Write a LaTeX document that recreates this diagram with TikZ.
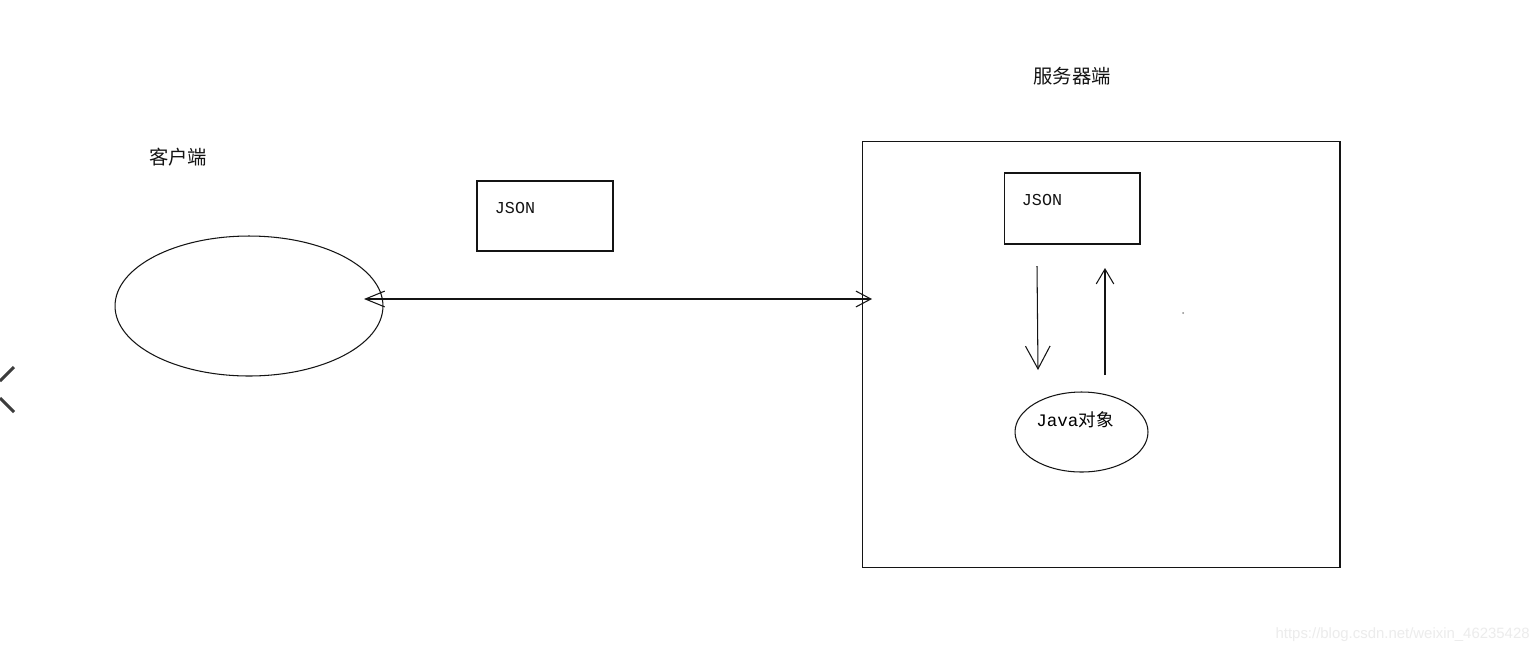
\documentclass[tikz,border=0pt]{standalone}
\usepackage{fontspec}
\setmonofont{Liberation Mono}
\newfontfamily\cjk{Noto Sans CJK SC}
\newfontfamily\wmfont{Liberation Sans}
\usepackage{tikz}
\usetikzlibrary{shapes.geometric, arrows.meta, positioning, calc}
\definecolor{mydark}{RGB}{20,20,20}
\definecolor{mygrey}{RGB}{60,60,60}
\definecolor{mymark}{RGB}{236,236,236}
\tikzset{
  box/.style={rectangle, draw=mydark, line width=0.6pt, inner sep=0pt},
  blob/.style={ellipse, draw=mydark, line width=0.6pt, inner sep=0pt},
  lbl/.style={font=\cjk\fontsize{11}{13}\selectfont, color=mydark, inner sep=0pt},
  jtxt/.style={font=\ttfamily\fontsize{9.5}{11}\selectfont, color=mydark, inner sep=0pt},
  link/.style={line width=0.6pt, color=mydark}
}
\begin{document}
\begin{tikzpicture}[x=0.02cm, y=-0.02cm]
  \useasboundingbox[fill=white] (0,0) rectangle (1537,653);

  % client side
  \node[lbl] (clientlbl) at (178,157) {客户端};
  \node[blob, minimum width=5.36cm, minimum height=2.8cm] (client) at (249,306) {};
  \node[box, minimum width=2.72cm, minimum height=1.4cm] (jsonA) at (545,216) {};
  \node[jtxt] (jsonAtxt) at (515,208) {JSON};

  % server side
  \node[lbl] (serverlbl) at (1072,76) {服务器端};
  \node[box, minimum width=9.56cm, minimum height=8.54cm] (server) at (1101,354.5) {};
  \node[box, minimum width=2.72cm, minimum height=1.42cm] (jsonB) at (1072,208.5) {};
  \node[jtxt] (jsonBtxt) at (1042,200) {JSON};
  \node[blob, minimum width=2.66cm, minimum height=1.6cm] (java) at (1081.5,432) {};
  \node[inner sep=0pt] (javatxt) at (1075,420)
    {{\ttfamily\fontsize{10}{12}\selectfont Java}{\cjk\fontsize{10}{12}\selectfont 对象}};

  % link client <-> server
  \coordinate (linkL) at (364,299);
  \coordinate (linkR) at (872,299);
  \draw[link, {Straight Barb[length=11pt, width=9pt]}-{Straight Barb[length=8.5pt, width=9pt]}]
    (linkL) -- (linkR);

  % JSON <-> Java object
  \coordinate (dnTop) at (1037,266);
  \coordinate (dnEnd) at (1038,370);
  \coordinate (upBot) at (1105,375);
  \coordinate (upEnd) at (1105,268);
  \draw[link, -{Straight Barb[length=13pt, width=14pt]}] (dnTop) -- (dnEnd);
  \draw[link, -{Straight Barb[length=8.5pt, width=10pt]}] (upBot) -- (upEnd);

  % stray marks
  \fill[mygrey!60] (1183,313) circle (1);
  \draw[mygrey, line width=1.7pt] (14,367) -- (0,381);
  \draw[mygrey, line width=1.7pt] (0,398) -- (14,412);
  \node[font=\wmfont\fontsize{8.5}{10}\selectfont, color=mymark, anchor=east, inner sep=0pt]
    (mark) at (1530,635) {https://blog.csdn.net/weixin\_46235428};
\end{tikzpicture}
\end{document}
